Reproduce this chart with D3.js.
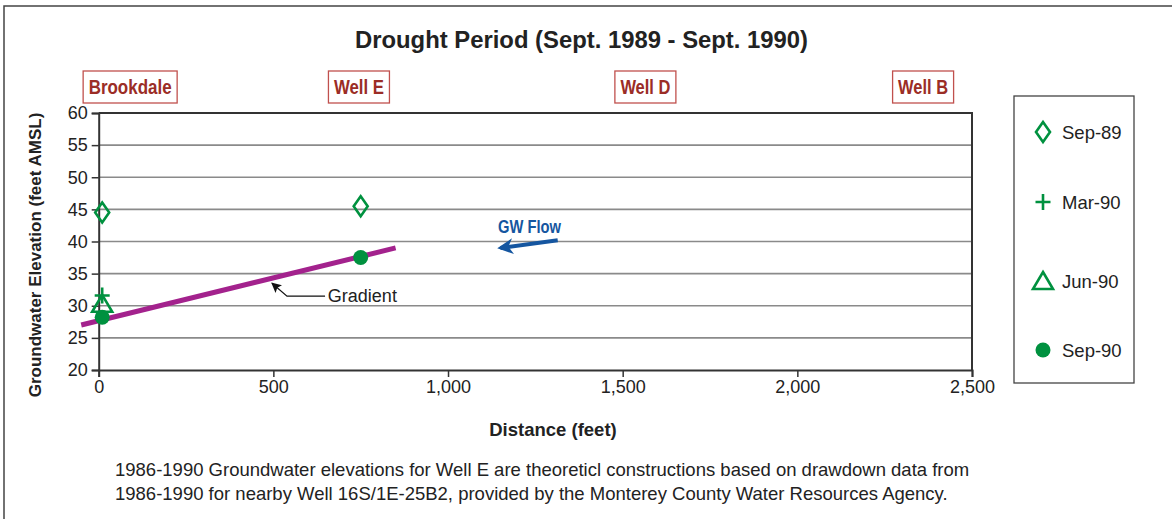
<!DOCTYPE html>
<html>
<head>
<meta charset="utf-8">
<script src="https://cdn.jsdelivr.net/npm/d3@7"></script>
<style>
  body { margin: 0; background: #fff; }
  svg { display: block; font-family: "Liberation Sans", Arial, sans-serif; }
  .narrow { font-family: "Liberation Sans", Arial, sans-serif; font-weight: bold; }
</style>
</head>
<body>
<svg id="chart" width="1172" height="519"></svg>
<script>
// data
const wells = ['Brookdale', 'Well E', 'Well D', 'Well B'];
const wellPos = [90, 745, 1565, 2360];
const distance = [10, 750];
const sep89 = [44.5, 45.5];
const mar90 = [31.6, null];
const jun90 = [30.3, null];
const sep90 = [28.2, 37.5];
const gradientX = [-50, 850];
const gradientY = [27.0, 39.0];
const xTicks = [0, 500, 1000, 1500, 2000, 2500];
const yTicks = [20, 25, 30, 35, 40, 45, 50, 55, 60];
const seriesNames = ['Sep-89', 'Mar-90', 'Jun-90', 'Sep-90'];

const green = '#00913f';
const purple = '#a3228d';
const darkred = '#9b2d26';
const blue = '#1556a0';

const plot = {left: 98.7, right: 972, top: 113, bottom: 370};

const svg = d3.select('#chart');

// outer frame
svg.append('rect')
  .attr('x', 4).attr('y', 6)
  .attr('width', 1300).attr('height', 600)
  .attr('fill', 'none').attr('stroke', '#444').attr('stroke-width', 1.5);

let x = d3.scaleLinear().domain([0, 2500]).range([plot.left, plot.right]);
let y = d3.scaleLinear().domain([20, 60]).range([plot.bottom, plot.top]);

// title (narrow bold face squeezed to the reference width)
svg.append('text')
  .attr('class', 'narrow')
  .attr('x', 355).attr('y', 48)
  .attr('textLength', 453).attr('lengthAdjust', 'spacingAndGlyphs')
  .style('font-size', '24px')
  .attr('fill', '#222')
  .text('Drought Period (Sept. 1989 - Sept. 1990)');

// well labels
const wellTextWidth = [83, 50, 50, 50];
let labels = svg.append('g');
wells.forEach((w, i) => {
  let cx = x(wellPos[i]);
  labels.append('rect')
    .attr('x', cx - wellTextWidth[i] / 2 - 5.5).attr('y', 71)
    .attr('width', wellTextWidth[i] + 11).attr('height', 32)
    .attr('fill', '#fff').attr('stroke', '#c0504d').attr('stroke-width', 1.3);
  labels.append('text')
    .attr('class', 'narrow')
    .attr('x', cx - wellTextWidth[i] / 2).attr('y', 94)
    .attr('textLength', wellTextWidth[i]).attr('lengthAdjust', 'spacingAndGlyphs')
    .style('font-size', '20px')
    .attr('fill', darkred)
    .text(w);
});

let g = svg.append('g');

// grid lines
g.selectAll('.grid')
  .data(yTicks.filter(d => d > 20 && d < 60))
  .enter().append('line')
  .attr('x1', plot.left).attr('x2', plot.right)
  .attr('y1', d => y(d)).attr('y2', d => y(d))
  .attr('stroke', '#8a8a8a').attr('stroke-width', 1.6);

// frame top/right
g.append('path')
  .attr('d', 'M' + plot.left + ',' + plot.top + 'H' + plot.right + 'V' + plot.bottom)
  .attr('fill', 'none').attr('stroke', '#333').attr('stroke-width', 2);

// axes
let xAxis = g.append('g')
  .attr('transform', 'translate(0,' + plot.bottom + ')')
  .call(d3.axisBottom(x).tickValues(xTicks).tickSize(7).tickPadding(3).tickFormat(d3.format(',')));
let yAxis = g.append('g')
  .attr('transform', 'translate(' + plot.left + ',0)')
  .call(d3.axisLeft(y).tickValues(yTicks).tickSize(7).tickPadding(4));
[xAxis, yAxis].forEach(a => {
  a.select('.domain').attr('stroke', '#333').attr('stroke-width', 2);
  a.selectAll('.tick line').attr('stroke', '#333').attr('stroke-width', 1.5);
  a.selectAll('.tick text')
    .style('font-family', '"Liberation Sans", Arial, sans-serif')
    .style('font-size', '18px').attr('fill', '#222');
});

// axis titles
svg.append('text')
  .attr('x', 553).attr('y', 436)
  .attr('text-anchor', 'middle')
  .style('font-size', '18.5px').style('font-weight', 'bold')
  .attr('fill', '#222')
  .text('Distance (feet)');
svg.append('text')
  .attr('transform', 'translate(41,255) rotate(-90)')
  .attr('text-anchor', 'middle')
  .style('font-size', '17px').style('font-weight', 'bold')
  .attr('fill', '#222')
  .text('Groundwater Elevation (feet AMSL)');

// gradient line
g.append('line')
  .attr('x1', x(gradientX[0])).attr('y1', y(gradientY[0]))
  .attr('x2', x(gradientX[1])).attr('y2', y(gradientY[1]))
  .attr('stroke', purple).attr('stroke-width', 5);

// markers
const shapes = {
  diamond: 'M0,-10L7,0L0,10L-7,0Z',
  plus: 'M-7.5,0H7.5M0,-8V8',
  triangle: 'M0,-9L10,8L-10,8Z'
};

function drawPoints(vals, kind) {
  let pts = distance.map((d, i) => ({x: d, v: vals[i]})).filter(p => p.v !== null);
  let sel = g.selectAll('.pt-' + kind).data(pts).enter();
  if (kind === 'circle') {
    sel.append('circle')
      .attr('cx', p => x(p.x)).attr('cy', p => y(p.v)).attr('r', 7.5)
      .attr('fill', green);
  } else {
    sel.append('path')
      .attr('transform', p => 'translate(' + x(p.x) + ',' + y(p.v) + ')')
      .attr('d', shapes[kind])
      .attr('fill', 'none').attr('stroke', green).attr('stroke-width', 2.6);
  }
}
drawPoints(sep90, 'circle');
drawPoints(jun90, 'triangle');
drawPoints(mar90, 'plus');
drawPoints(sep89, 'diamond');

// arrow heads
svg.append('defs').html(
  '<marker id="blueHead" viewBox="0 0 10 10" refX="8" refY="5" markerWidth="4" markerHeight="4" orient="auto">' +
  '<path d="M0,0L10,5L0,10L3,5Z" fill="' + blue + '"/></marker>' +
  '<marker id="blackHead" viewBox="0 0 10 10" refX="9" refY="5" markerWidth="10" markerHeight="10" orient="auto" markerUnits="userSpaceOnUse">' +
  '<path d="M0,0L10,5L0,10L2,5Z" fill="#111"/></marker>');

// GW Flow annotation
g.append('line')
  .attr('x1', x(1314)).attr('y1', y(40.2))
  .attr('x2', x(1150)).attr('y2', y(39.0))
  .attr('stroke', blue).attr('stroke-width', 4)
  .attr('marker-end', 'url(#blueHead)');
g.append('text')
  .attr('class', 'narrow')
  .attr('x', x(1143)).attr('y', y(41.3))
  .attr('textLength', 63).attr('lengthAdjust', 'spacingAndGlyphs')
  .style('font-size', '18px')
  .attr('fill', blue)
  .text('GW Flow');

// Gradient leader
g.append('path')
  .attr('d', 'M' + x(648) + ',' + y(31.5) + 'H' + x(539) + 'L' + x(496) + ',' + y(33.5))
  .attr('fill', 'none').attr('stroke', '#111').attr('stroke-width', 1.2)
  .attr('marker-end', 'url(#blackHead)');
g.append('text')
  .attr('x', x(656)).attr('y', y(30.6))
  .style('font-size', '18px')
  .attr('fill', '#222')
  .text('Gradient');

// legend
let legend = svg.append('g');
legend.append('rect')
  .attr('x', 1014).attr('y', 96)
  .attr('width', 120).attr('height', 287)
  .attr('fill', '#fff').attr('stroke', '#444').attr('stroke-width', 1.3);
const legendY = [132, 202, 281, 350];
const legendKinds = ['diamond', 'plus', 'triangle', 'circle'];
seriesNames.forEach((s, i) => {
  if (legendKinds[i] === 'circle') {
    legend.append('circle')
      .attr('cx', 1043).attr('cy', legendY[i]).attr('r', 7.5)
      .attr('fill', green);
  } else {
    legend.append('path')
      .attr('transform', 'translate(1043,' + legendY[i] + ')')
      .attr('d', shapes[legendKinds[i]])
      .attr('fill', 'none').attr('stroke', green).attr('stroke-width', 2.6);
  }
  legend.append('text')
    .attr('x', 1062).attr('y', legendY[i] + 6.5)
    .style('font-size', '18.5px')
    .attr('fill', '#222')
    .text(s);
});

// footnote
const footnote = [
  '1986-1990 Groundwater elevations for Well E are theoreticl constructions based on drawdown data from',
  '1986-1990 for nearby Well 16S/1E-25B2, provided by the Monterey County Water Resources Agency.'
];
footnote.forEach((line, i) => {
  svg.append('text')
    .attr('x', 115).attr('y', 476 + i * 24)
    .style('font-size', '18.5px')
    .attr('fill', '#222')
    .text(line);
});
</script>
</body>
</html>
